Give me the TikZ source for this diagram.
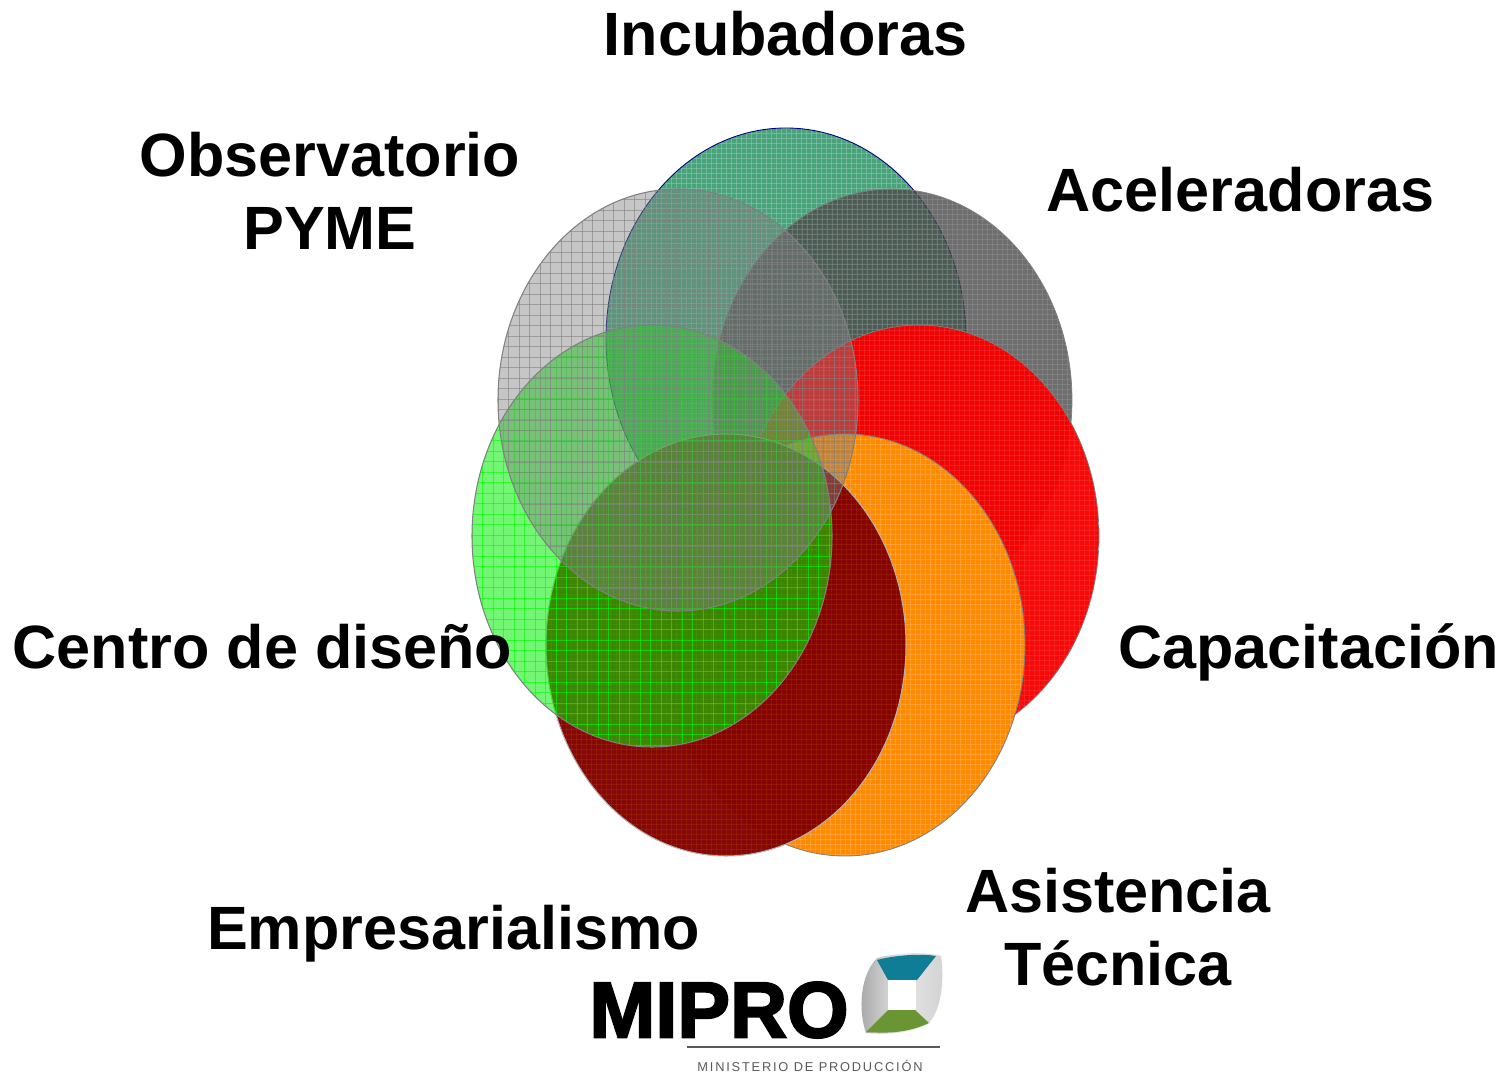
\documentclass[tikz,border=0pt]{standalone}
\usepackage{xcolor}
\usepackage{fontspec}
\setmainfont{Liberation Sans}
\newfontfamily\logofont[FakeBold=2.6]{Liberation Sans}
\newfontfamily\subfont[LetterSpace=14]{Liberation Sans}
\usetikzlibrary{positioning}

\definecolor{incubcol}{RGB}{62,158,116}
\definecolor{acelcol}{RGB}{74,74,74}
\definecolor{capcol}{RGB}{245,0,0}
\definecolor{asistcol}{RGB}{255,138,0}
\definecolor{emprecol}{RGB}{128,0,0}
\definecolor{disecol}{RGB}{0,238,0}
\definecolor{dgridcol}{RGB}{0,255,0}
\definecolor{obscol}{RGB}{128,128,128}
\definecolor{tealcol}{RGB}{15,125,150}
\definecolor{leafcol}{RGB}{105,150,50}

\tikzset{
  label/.style={font=\fontsize{34.8}{41.4}\selectfont\bfseries,align=center,inner sep=0pt,text=black},
}

\newcommand{\lobe}[7]{
  \begin{scope}
  \clip (#1,#2) ellipse [x radius=180,y radius=211];
  \fill[#3,opacity=#4] (#1-180,#2-211) rectangle (#1+180,#2+211);
  \foreach \gx in {0,#6,...,360} { \draw[#5,line width=#7pt] (#1-180+\gx,#2-211) -- (#1-180+\gx,#2+211) ; }
  \foreach \gy in {0,#6,...,422} { \draw[#5,line width=#7pt] (#1-180,#2-211+\gy) -- (#1+180,#2-211+\gy) ; }
  \end{scope}
}

\begin{document}
\begin{tikzpicture}[x=.02cm,y=-.02cm]

\useasboundingbox (0,0) rectangle (1505,1077);

\lobe{786}{339}{incubcol}{.95}{white!40!incubcol,opacity=.6}{5}{.3}
\draw[blue!50!black,line width=.5pt] (786,339) ellipse [x radius=180,y radius=211];
\lobe{892}{400}{acelcol}{.8}{white!40!acelcol,opacity=.45}{5}{.3}
\draw[gray,line width=.4pt] (892,400) ellipse [x radius=180,y radius=211];
\lobe{919}{536}{capcol}{.96}{white!30!capcol,opacity=.3}{5}{.3}
\draw[gray,line width=.4pt] (919,536) ellipse [x radius=180,y radius=211];
\lobe{845}{645}{asistcol}{1}{white!35!asistcol,opacity=.5}{5}{.3}
\draw[gray,line width=.5pt] (845,645) ellipse [x radius=180,y radius=211];
\lobe{726}{645}{emprecol}{.97}{asistcol!50!emprecol,opacity=.25}{5}{.3}
\draw[gray!60,line width=.6pt] (726,645) ellipse [x radius=180,y radius=211];
\lobe{652}{536}{disecol}{.55}{dgridcol,opacity=.6}{10.5}{.35}
\draw[gray,line width=.6pt] (652,536) ellipse [x radius=180,y radius=211];
\lobe{678}{400}{obscol}{.45}{obscol,opacity=.6}{10.5}{.4}
\draw[gray,line width=.6pt] (678,400) ellipse [x radius=180,y radius=211];

\node[label] (incub) at (785.5,34) {Incubadoras} ;
\node[label] (obs) at (330,191) {Observatorio\\PYME} ;
\node[label] (acel) at (1240.5,190) {Aceleradoras} ;
\node[label] (dise) at (262.5,647) {Centro de diseño} ;
\node[label] (cap) at (1308.5,652) {Capacitación} ;
\node[label] (asist) at (1118,927) {Asistencia\\Técnica} ;
\node[label] (empre) at (453.5,934) {Empresarialismo} ;

\node[font=\logofont\fontsize{45}{45}\selectfont\bfseries,inner sep=0pt] (mipro) at (719,1010) {MIPRO} ;

\shade[left color=gray!70,right color=gray!35,middle color=gray!20] (877,958) .. controls (900,952) and (925,952) .. (941,956) .. controls (945,985) and (940,1012) .. (928,1024) .. controls (905,1035) and (885,1034) .. (866,1033) .. controls (858,1010) and (860,975) .. (877,958) -- cycle;
\fill[tealcol] (877,960) .. controls (900,954) and (925,954) .. (936,956) -- (917,980) -- (888,980) -- cycle;
\fill[leafcol] (888,1010) -- (915,1010) -- (929,1023) .. controls (905,1034) and (885,1033) .. (866,1032) -- cycle;
\fill[white] (888,980) rectangle (916,1010);

\coordinate (ruleL) at (687,1047);
\coordinate (ruleR) at (940,1047);
\draw[black!65,line width=.8pt] (ruleL) -- (ruleR) ;
\node[font=\subfont\fontsize{7.3}{8}\selectfont,text=black!65,inner sep=0pt] (minist) at (810,1066) {MINISTERIO DE PRODUCCIÓN} ;

\end{tikzpicture}
\end{document}
